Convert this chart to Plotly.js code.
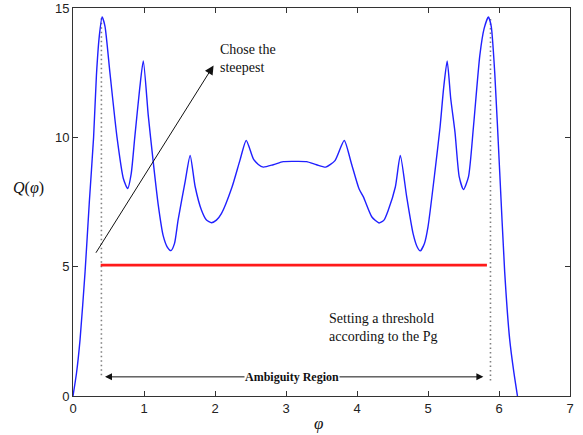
<!DOCTYPE html>
<html>
<head>
<meta charset="utf-8">
<script src="https://cdn.plot.ly/plotly-3.0.1.min.js"></script>
<style>html,body{margin:0;padding:0;background:#fff;}#chart{width:583px;height:435px;}</style>
</head>
<body>
<div id="chart"></div>
<script>
// Q(phi) curve
var phi = [0.00,0.05,0.10,0.17,0.23,0.29,0.33,0.37,0.41,0.45,0.52,0.62,0.71,0.77,0.82,0.87,0.94,0.99,1.06,1.13,1.20,1.27,1.33,1.38,1.43,1.48,1.58,1.65,1.72,1.81,1.88,1.95,2.02,2.09,2.24,2.35,2.44,2.54,2.61,2.68,2.82,2.96,3.14,3.29,3.43,3.56,3.69,3.82,3.92,4.03,4.09,4.21,4.31,4.38,4.44,4.54,4.61,4.70,4.79,4.85,4.89,4.95,5.00,5.10,5.17,5.22,5.27,5.32,5.38,5.44,5.50,5.57,5.64,5.73,5.79,5.85,5.89,5.94,6.01,6.08,6.15,6.21,6.26];
var Q = [0.0,0.9,2.2,4.8,7.5,10.0,12.4,13.9,14.65,14.3,12.5,10.0,8.4,8.02,8.6,10.0,11.9,12.95,10.85,9.05,7.4,6.2,5.75,5.62,5.9,6.8,8.3,9.3,8.1,7.18,6.8,6.7,6.8,7.05,8.08,9.1,9.88,9.17,8.95,8.85,8.94,9.06,9.07,9.06,8.94,8.85,9.1,9.88,9.0,8.0,7.7,6.92,6.69,6.8,7.18,8.08,9.3,7.7,6.28,5.75,5.61,5.9,6.54,8.73,10.4,11.9,12.95,11.5,10.2,8.47,7.98,8.47,10.4,13.17,14.2,14.65,14.3,12.5,8.66,4.8,2.2,0.9,0.0];

// threshold line
var thresholdX = [0.39, 5.83];
var thresholdY = [5.06, 5.06];

// dotted markers at the steepest peaks
var leftMarkX = [0.40, 0.40];
var leftMarkY = [0.8, 14.7];
var rightMarkX = [5.88, 5.88];
var rightMarkY = [0.6, 14.6];

var xTicks = [0,1,2,3,4,5,6,7];
var yTicks = [0,5,10,15];

var serif = 'Liberation Serif, Times New Roman, serif';
var sans = 'Liberation Sans, Arial, sans-serif';

var traces = [
  {x: leftMarkX, y: leftMarkY, mode: 'lines', line: {color: '#808080', width: 1.6, dash: '1.5px,3px'}, hoverinfo: 'skip'},
  {x: rightMarkX, y: rightMarkY, mode: 'lines', line: {color: '#808080', width: 1.6, dash: '1.5px,3px'}, hoverinfo: 'skip'},
  {x: phi, y: Q, mode: 'lines', line: {color: '#2020ff', width: 1.4, shape: 'spline', smoothing: 0.6}},
  {x: thresholdX, y: thresholdY, mode: 'lines', line: {color: '#ff1a1a', width: 2.6}}
];

var axisCommon = {
  showline: true, linecolor: '#333', linewidth: 1, mirror: 'ticks',
  ticks: 'inside', ticklen: 5, tickcolor: '#333',
  showgrid: false, zeroline: false,
  tickfont: {family: sans, size: 13, color: '#222'}
};

var layout = {
  width: 583, height: 435,
  margin: {l: 73, r: 13, t: 8, b: 39},
  paper_bgcolor: '#fff', plot_bgcolor: '#fff',
  showlegend: false,
  xaxis: Object.assign({}, axisCommon, {range: [0, 7], tickvals: xTicks, ticktext: xTicks.map(String)}),
  yaxis: Object.assign({}, axisCommon, {range: [0, 15], tickvals: yTicks, ticktext: yTicks.map(String)}),
  annotations: [
    {xref: 'x', yref: 'y', x: 1.98, y: 12.78, axref: 'x', ayref: 'y', ax: 0.31, ay: 5.48,
     text: '', showarrow: true, arrowhead: 2, arrowsize: 1.8, arrowwidth: 1, arrowcolor: '#111'},
    {xref: 'x', yref: 'y', x: 2.04, y: 13.05, xanchor: 'left', yanchor: 'middle', align: 'left',
     text: 'Chose the<br>steepest', showarrow: false, font: {family: serif, size: 14, color: '#111'}},
    {xref: 'x', yref: 'y', x: 4.36, y: 2.64, xanchor: 'center', yanchor: 'middle', align: 'left',
     text: 'Setting a threshold<br>according to the Pg', showarrow: false, font: {family: serif, size: 14, color: '#111'}},
    {xref: 'x', yref: 'y', x: 5.78, y: 0.74, axref: 'x', ayref: 'y', ax: 0.43, ay: 0.74,
     text: '', showarrow: true, arrowhead: 2, startarrowhead: 2, arrowside: 'end+start', arrowsize: 1.4, startarrowsize: 1.4, arrowwidth: 1, arrowcolor: '#111'},
    {xref: 'x', yref: 'y', x: 3.08, y: 0.74, xanchor: 'center', yanchor: 'middle',
     text: '<b>Ambiguity Region</b>', showarrow: false, bgcolor: '#fff', borderpad: 0,
     font: {family: serif, size: 12, color: '#111'}},
    {xref: 'paper', yref: 'paper', x: (318 - 73) / 497, y: -0.072, xanchor: 'center', yanchor: 'middle',
     text: '<i>φ</i>', showarrow: false, font: {family: serif, size: 17, color: '#111'}},
    {xref: 'paper', yref: 'paper', x: (28 - 73) / 497, y: (396 - 188) / 388, xanchor: 'center', yanchor: 'middle',
     text: '<i>Q</i>(<i>φ</i>)', showarrow: false, font: {family: serif, size: 16, color: '#111'}}
  ]
};

Plotly.newPlot('chart', traces, layout, {displayModeBar: false, staticPlot: true});
</script>
</body>
</html>
